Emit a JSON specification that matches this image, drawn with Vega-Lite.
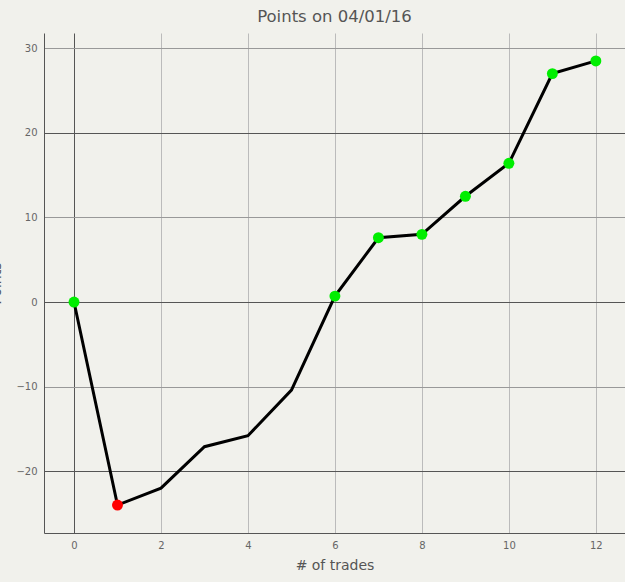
{
  "$schema": "https://vega.github.io/schema/vega-lite/v6.json",
  "autosize": {"type": "none"},
  "padding": {"left": 44, "top": 33, "right": 0, "bottom": 49},
  "width": 581,
  "height": 500,
  "background": "#f1f1ec",
  "config": {
    "view": {"stroke": null},
    "font": "DejaVu Sans"
  },
  "title": {
    "text": "Points on 04/01/16",
    "fontSize": 16.5,
    "fontWeight": "normal",
    "color": "#555555",
    "anchor": "middle",
    "offset": 8
  },
  "data": {
    "values": [
      {"trade": 0, "points": 0, "marker": "up"},
      {"trade": 1, "points": -24.0, "marker": "down"},
      {"trade": 2, "points": -22.0, "marker": "none"},
      {"trade": 3, "points": -17.1, "marker": "none"},
      {"trade": 4, "points": -15.8, "marker": "none"},
      {"trade": 5, "points": -10.4, "marker": "none"},
      {"trade": 6, "points": 0.7, "marker": "up"},
      {"trade": 7, "points": 7.6, "marker": "up"},
      {"trade": 8, "points": 8.0, "marker": "up"},
      {"trade": 9, "points": 12.5, "marker": "up"},
      {"trade": 10, "points": 16.4, "marker": "up"},
      {"trade": 11, "points": 27.0, "marker": "up"},
      {"trade": 12, "points": 28.5, "marker": "up"}
    ]
  },
  "encoding": {
    "x": {
      "field": "trade",
      "type": "quantitative",
      "title": "# of trades",
      "scale": {"domain": [-0.69, 12.67], "nice": false, "zero": false},
      "axis": {
        "values": [0, 2, 4, 6, 8, 10, 12],
        "ticks": false,
        "labelPadding": 7,
        "labelFontSize": 10,
        "labelColor": "#666666",
        "domainColor": "#555555",
        "grid": true,
        "gridColor": {"condition": {"test": "datum.value === 0", "value": "#555555"}, "value": "#bbbbbb"},
        "titleFontSize": 14,
        "titleFontWeight": "normal",
        "titleColor": "#555555",
        "titlePadding": 8
      }
    },
    "y": {
      "field": "points",
      "type": "quantitative",
      "title": "Points",
      "scale": {"domain": [-27.3, 31.8], "nice": false, "zero": false},
      "axis": {
        "values": [-20, -10, 0, 10, 20, 30],
        "ticks": false,
        "labelPadding": 7,
        "labelFontSize": 10,
        "labelColor": "#666666",
        "domainColor": "#555555",
        "grid": true,
        "gridColor": {"condition": {"test": "datum.value % 20 === 0", "value": "#555555"}, "value": "#999999"},
        "titleFontSize": 14,
        "titleFontWeight": "normal",
        "titleColor": "#555555",
        "titleX": -44,
        "titleY": 250,
        "titleBaseline": "alphabetic"
      }
    }
  },
  "layer": [
    {
      "mark": {"type": "line", "color": "black", "strokeWidth": 3}
    },
    {
      "transform": [{"filter": "datum.marker !== 'none'"}],
      "mark": {"type": "circle", "size": 120, "opacity": 1},
      "encoding": {
        "color": {
          "field": "marker",
          "type": "nominal",
          "scale": {"domain": ["up", "down"], "range": ["#00ee00", "#ff0000"]},
          "legend": null
        }
      }
    }
  ]
}
